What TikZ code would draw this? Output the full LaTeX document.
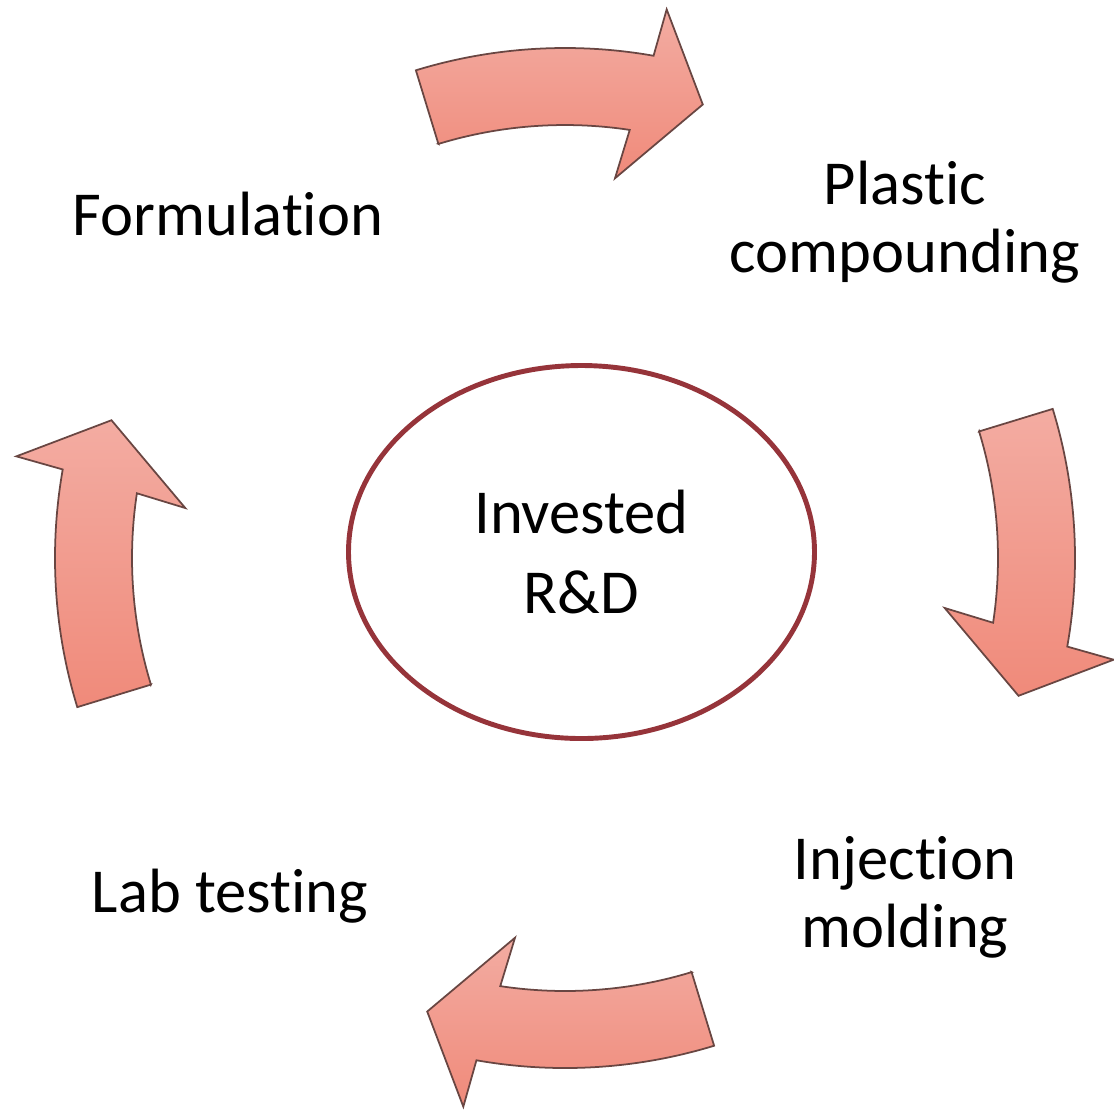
\documentclass[tikz,border=0pt]{standalone}
\usepackage{fontspec}
\setmainfont{Carlito}[Ligatures=NoCommon]
\usepackage{tikz}
\usetikzlibrary{shapes.geometric}

\definecolor{arrowtop}{RGB}{243,172,162}
\definecolor{arrowbottom}{RGB}{240,138,122}
\definecolor{arrowline}{RGB}{105,70,66}
\definecolor{rdline}{RGB}{150,52,58}

\tikzset{cyclearrow/.style={draw=arrowline, line width=0.5pt,
           top color=arrowtop, bottom color=arrowbottom},
         steplabel/.style={font=\fontsize{17.8}{19.4}\selectfont, align=center}}

\begin{document}
\begin{tikzpicture}
\useasboundingbox (0,0) rectangle (11.14,-11.10);
\coordinate (hub) at (5.65,-5.58);
  % centre
  \node (rd) [draw=rdline, line width=1.4pt, ellipse, inner sep=0pt,
              minimum width=4.66cm, minimum height=3.73cm, align=center,
              font=\fontsize{17.8}{23}\selectfont] at (5.815,-5.52) {Invested\\R\&D};
  \node (form) [steplabel] at (2.28,-2.14) {Formulation};
  \node (plast) [steplabel] at (9.05,-2.22) {Plastic\\compounding};
  \node (inj) [steplabel] at (9.05,-8.97) {Injection\\molding};
  \node (lab) [steplabel] at (2.30,-8.96) {Lab testing};
  % curved arrows
  \foreach \c in {90,0,-90,180}
    \draw[cyclearrow, shift={(hub)}] (\c+17:4.33) -- (\c+17:5.10)
      arc[start angle=\c+17, end angle=\c-10, radius=5.10]
      -- (\c-10.5:5.58) -- (\c-16.9:4.74) -- (\c-7.5:3.83) -- (\c-8.6:4.33)
      arc[start angle=\c-8.6, end angle=\c+17, radius=4.33] -- cycle;
\end{tikzpicture}
\end{document}
